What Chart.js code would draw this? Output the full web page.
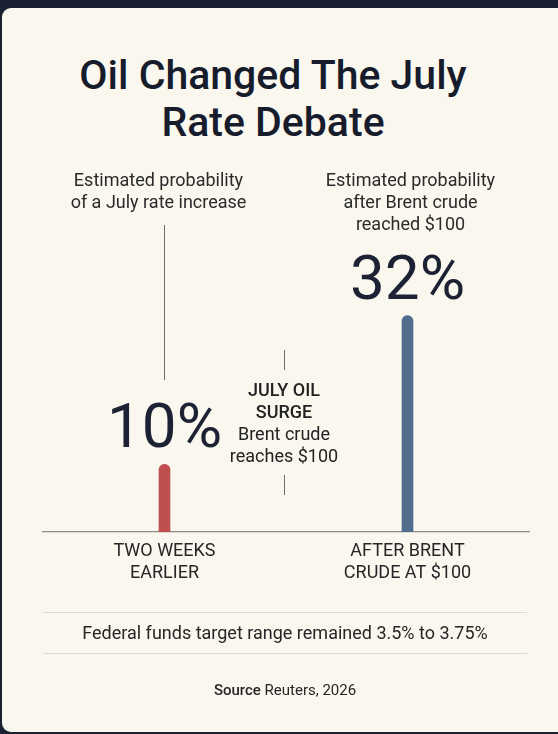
<!DOCTYPE html>
<html>
<head>
<meta charset="utf-8">
<script src="https://cdn.jsdelivr.net/npm/chart.js@4.4.1/dist/chart.umd.min.js"></script>
<style>
    html, body {
        margin: 0;
        padding: 0;
        width: 558px;
        height: 734px;
        overflow: hidden;
        background: #1b2133;
        font-family: Roboto, 'Noto Sans', sans-serif;
    }
    .card {
        position: absolute;
        left: 2px;
        top: 8px;
        width: 570px;
        height: 724px;
        background: #faf7ef;
        border-radius: 9px;
    }
    .titulo {
        position: absolute;
        left: 0;
        top: 52px;
        width: 546px;
        text-align: center;
        font-size: 41px;
        line-height: 47px;
        font-weight: 500;
        color: #171c2c;
    }
    .grafico {
        position: absolute;
        left: 0;
        top: 0;
        width: 558px;
        height: 734px;
    }
    .linha {
        position: absolute;
        left: 43px;
        width: 484px;
        height: 0;
        border-top: 1.5px solid #d7ddd0;
    }
    .nota {
        position: absolute;
        left: 43px;
        width: 484px;
        text-align: center;
        color: #262626;
    }
</style>
</head>
<body>
<div class="card"></div>
<div class="titulo">Oil Changed The July<br>Rate Debate</div>
<div class="grafico"><canvas id="chartProbabilidade"></canvas></div>
<div class="linha" style="top: 612px;"></div>
<div class="nota" style="top: 622px; font-size: 18px; line-height: 22px;">Federal funds target range remained 3.5% to 3.75%</div>
<div class="linha" style="top: 653px;"></div>
<div class="nota" style="top: 680px; font-size: 15px; line-height: 20px;"><span style="font-weight: 500;">Source</span> Reuters, 2026</div>

<script>
const categorias = [['TWO WEEKS', 'EARLIER'], ['AFTER BRENT', 'CRUDE AT $100']];
const probabilidades = [10, 32];
const coresBarras = ['#c0504f', '#4f6e8d'];
const notasTopo = [
    ['Estimated probability', 'of a July rate increase'],
    ['Estimated probability', 'after Brent crude', 'reached $100']
];
const notaMeio = ['JULY OIL', 'SURGE', 'Brent crude', 'reaches $100'];
const eixoMin = 0;
const eixoMax = 50;

// textos em volta das barras, presos na posicao das barras
const pluginNotas = {
    id: 'pluginNotas',
    afterDatasetsDraw(chart) {
        const ctx = chart.ctx;
        const barras = chart.getDatasetMeta(0).data;
        ctx.save();
        ctx.textAlign = 'center';
        ctx.textBaseline = 'alphabetic';

        // valores grandes
        ctx.fillStyle = '#1c2233';
        ctx.font = '400 62px Roboto';
        barras.forEach((barra, i) => {
            ctx.fillText(probabilidades[i] + '%', barra.x, barra.y - 39 + 22);
        });

        // notas de cima
        ctx.fillStyle = '#2a2a2a';
        ctx.font = '400 18px Roboto';
        const ajuste = [-6, 3];
        notasTopo.forEach((linhas, i) => {
            linhas.forEach((linha, j) => {
                ctx.fillText(linha, barras[i].x + ajuste[i], 180 + 22 * j + 6);
            });
        });

        // fio ligando a nota da esquerda
        ctx.strokeStyle = '#6e6e6e';
        ctx.lineWidth = 1;
        const xFio = Math.round(barras[0].x) - 0.5;
        ctx.beginPath();
        ctx.moveTo(xFio, 225);
        ctx.lineTo(xFio, 380);
        ctx.stroke();

        // nota do meio
        const xMeio = (barras[0].x + barras[1].x) / 2 - 2;
        const xTraco = Math.round(xMeio) + 0.5;
        ctx.beginPath();
        ctx.moveTo(xTraco, 350);
        ctx.lineTo(xTraco, 370);
        ctx.moveTo(xTraco, 475);
        ctx.lineTo(xTraco, 495);
        ctx.stroke();

        ctx.fillStyle = '#222222';
        notaMeio.forEach((linha, j) => {
            ctx.font = (j < 2 ? '500' : '400') + ' 18px Roboto';
            ctx.fillText(linha, xMeio, 390 + 22 * j + 6);
        });
        ctx.restore();
    }
};

function carregarGrafico() {
    const canvas = document.getElementById('chartProbabilidade');

    new Chart(canvas, {
        type: 'bar',
        data: {
            labels: categorias,
            datasets: [
                {
                    label: 'Probabilidade',
                    data: probabilidades,
                    backgroundColor: coresBarras,
                    barThickness: 11,
                    borderRadius: 6
                }
            ]
        },
        options: {
            responsive: true,
            maintainAspectRatio: false,
            animation: false,
            layout: {
                padding: { left: 43, right: 29, top: 194, bottom: 132 }
            },
            plugins: {
                legend: { display: false },
                tooltip: { enabled: false }
            },
            scales: {
                y: {
                    display: false,
                    min: eixoMin,
                    max: eixoMax
                },
                x: {
                    grid: {
                        display: false,
                        drawTicks: false
                    },
                    border: {
                        display: true,
                        color: '#8c8c8c',
                        width: 1.2
                    },
                    ticks: {
                        color: '#262626',
                        padding: 8,
                        maxRotation: 0,
                        autoSkip: false,
                        font: { family: 'Roboto', size: 18, lineHeight: 22 / 18 }
                    },
                    afterFit: (escala) => { escala.height = 70; }
                }
            }
        },
        plugins: [pluginNotas]
    });
}

carregarGrafico();
</script>
</body>
</html>
